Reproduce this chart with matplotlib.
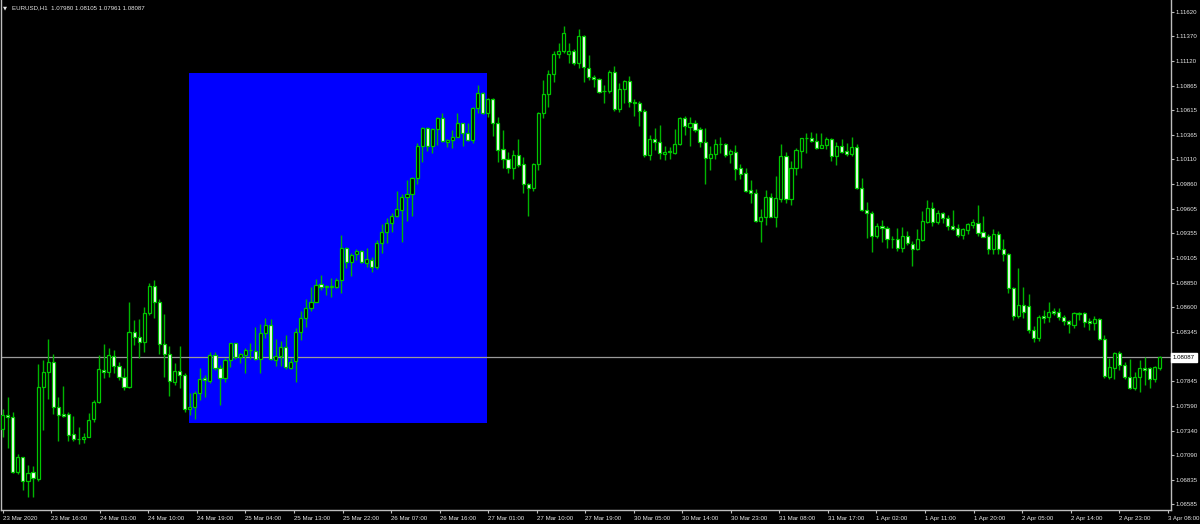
import matplotlib
matplotlib.use("Agg")
import matplotlib.pyplot as plt
import matplotlib.transforms as mtransforms
import numpy as np

plt.rcParams['font.family'] = ['Liberation Sans', 'DejaVu Sans']

# EURUSD H1 candles
opens = [
    1.0736, 1.0750, 1.0748, 1.0692, 1.0707, 1.0682, 1.0692, 1.0684, 1.0778, 1.0794,
    1.0804, 1.0758, 1.0751, 1.0751, 1.0730, 1.0725, 1.0725, 1.0727, 1.0746, 1.0763,
    1.0796, 1.0794, 1.0810, 1.0800, 1.0789, 1.0778, 1.0835, 1.0830, 1.0824, 1.0854,
    1.0882, 1.0865, 1.0822, 1.0812, 1.0784, 1.0795, 1.0791, 1.0756, 1.0758, 1.0772,
    1.0788, 1.0785, 1.0811, 1.0798, 1.0788, 1.0806, 1.0823, 1.0809, 1.0811, 1.0816,
    1.0815, 1.0807, 1.0834, 1.0842, 1.0806, 1.0810, 1.0819, 1.0798, 1.0805, 1.0835,
    1.0849, 1.0859, 1.0865, 1.0884, 1.0881, 1.0881, 1.0881, 1.0888, 1.0921, 1.0906,
    1.0914, 1.0917, 1.0905, 1.0908, 1.0901, 1.0926, 1.0937, 1.0946, 1.0953, 1.0959,
    1.0973, 1.0976, 1.0992, 1.1025, 1.1043, 1.1025, 1.1042, 1.1053, 1.1029, 1.1031,
    1.1034, 1.1048, 1.1038, 1.1031, 1.1064, 1.1079, 1.1059, 1.1073, 1.1048, 1.1022,
    1.1012, 1.1002, 1.1016, 1.1006, 1.0986, 1.0982, 1.1006, 1.1059, 1.1078, 1.1098,
    1.1119, 1.1122, 1.1119, 1.1122, 1.1110, 1.1137, 1.1105, 1.1095, 1.1093, 1.1081,
    1.1081, 1.1100, 1.1063, 1.1083, 1.1091, 1.1070, 1.1069, 1.1061, 1.1016, 1.1032,
    1.1029, 1.1017, 1.1019, 1.1018, 1.1027, 1.1053, 1.1044, 1.1048, 1.1042, 1.1029,
    1.1013, 1.1017, 1.1027, 1.1027, 1.1017, 1.1019, 1.1002, 1.0997, 1.0980, 1.0977,
    1.0948, 1.0952, 1.0973, 1.0952, 1.0971, 1.1015, 1.0971, 1.1002, 1.1020, 1.1033,
    1.1033, 1.1030, 1.1023, 1.1026, 1.1032, 1.1015, 1.1025, 1.1020, 1.1017, 1.1024,
    1.0982, 1.0959, 1.0956, 1.0933, 1.0943, 1.0941, 1.0930, 1.0930, 1.0921, 1.0933,
    1.0925, 1.0920, 1.0929, 1.0947, 1.0961, 1.0947, 1.0956, 1.0951, 1.0943, 1.0941,
    1.0934, 1.0939, 1.0944, 1.0946, 1.0937, 1.0933, 1.0920, 1.0935, 1.0920, 1.0914,
    1.0880, 1.0851, 1.0862, 1.0861, 1.0837, 1.0829, 1.0851, 1.0850, 1.0856, 1.0855,
    1.0850, 1.0846, 1.0842, 1.0853, 1.0854, 1.0846, 1.0844, 1.0848, 1.0828, 1.0789,
    1.0798, 1.0813, 1.0801, 1.0789, 1.0777, 1.0789, 1.0798, 1.0798, 1.0787, 1.07980,
]
highs = [
    1.0756, 1.0768, 1.0753, 1.0710, 1.0707, 1.0699, 1.0698, 1.0802, 1.0806, 1.0828,
    1.0812, 1.0768, 1.0780, 1.0753, 1.0749, 1.0738, 1.0731, 1.0752, 1.0765, 1.0811,
    1.0822, 1.0818, 1.0816, 1.0804, 1.0798, 1.0865, 1.0847, 1.0848, 1.0860, 1.0885,
    1.0888, 1.0868, 1.0853, 1.0820, 1.0803, 1.0820, 1.0793, 1.0772, 1.0774, 1.0798,
    1.0791, 1.0814, 1.0814, 1.0801, 1.0808, 1.0823, 1.0823, 1.0813, 1.0818, 1.0823,
    1.0840, 1.0843, 1.0849, 1.0848, 1.0828, 1.0825, 1.0832, 1.0808, 1.0839, 1.0856,
    1.0868, 1.0881, 1.0889, 1.0893, 1.0883, 1.0890, 1.0890, 1.0934, 1.0922, 1.0915,
    1.0920, 1.0918, 1.0921, 1.0911, 1.0929, 1.0945, 1.0951, 1.0956, 1.0979, 1.0976,
    1.0990, 1.0993, 1.1028, 1.1044, 1.1044, 1.1043, 1.1054, 1.1059, 1.1032, 1.1041,
    1.1059, 1.1048, 1.1048, 1.1065, 1.1087, 1.1080, 1.1074, 1.1074, 1.1054, 1.1041,
    1.1019, 1.1021, 1.1032, 1.1014, 1.0987, 1.1007, 1.1060, 1.1092, 1.1102, 1.1122,
    1.1130, 1.1147, 1.1130, 1.1124, 1.1144, 1.1138, 1.1118, 1.1097, 1.1094, 1.1087,
    1.1102, 1.1107, 1.1089, 1.1092, 1.1096, 1.1073, 1.1071, 1.1063, 1.1036, 1.1043,
    1.1046, 1.1025, 1.1024, 1.1042, 1.1054, 1.1055, 1.1054, 1.1051, 1.1044, 1.1043,
    1.1025, 1.1032, 1.1034, 1.1028, 1.1022, 1.1026, 1.1006, 1.1002, 1.0990, 1.0981,
    1.0960, 1.0980, 1.0977, 1.0994, 1.1027, 1.1019, 1.1009, 1.1023, 1.1033, 1.1038,
    1.1039, 1.1038, 1.1038, 1.1034, 1.1033, 1.1029, 1.1032, 1.1028, 1.1034, 1.1027,
    1.0992, 1.0968, 1.0958, 1.0946, 1.0949, 1.0943, 1.0933, 1.0941, 1.0942, 1.0938,
    1.0928, 1.0940, 1.0958, 1.0970, 1.0968, 1.0959, 1.0957, 1.0954, 1.0959, 1.0945,
    1.0941, 1.0946, 1.0950, 1.0964, 1.0953, 1.0935, 1.0940, 1.0938, 1.0930, 1.0915,
    1.0881, 1.0900, 1.0881, 1.0874, 1.0841, 1.0852, 1.0857, 1.0865, 1.0859, 1.0859,
    1.0852, 1.0847, 1.0855, 1.0855, 1.0855, 1.0849, 1.0851, 1.0849, 1.0832, 1.0808,
    1.0814, 1.0815, 1.0804, 1.0807, 1.0794, 1.0806, 1.0809, 1.0799, 1.0800, 1.08105,
]
lows = [
    1.0727, 1.0716, 1.0691, 1.0690, 1.0673, 1.0666, 1.0666, 1.0682, 1.0735, 1.0766,
    1.0751, 1.0723, 1.0748, 1.0723, 1.0723, 1.0720, 1.0721, 1.0727, 1.0743, 1.0762,
    1.0788, 1.0789, 1.0793, 1.0786, 1.0775, 1.0777, 1.0821, 1.0808, 1.0814, 1.0852,
    1.0849, 1.0812, 1.0789, 1.0769, 1.0781, 1.0777, 1.0753, 1.0750, 1.0746, 1.0765,
    1.0768, 1.0783, 1.0796, 1.0760, 1.0784, 1.0799, 1.0807, 1.0803, 1.0793, 1.0807,
    1.0806, 1.0793, 1.0829, 1.0806, 1.0800, 1.0800, 1.0797, 1.0797, 1.0784, 1.0827,
    1.0840, 1.0856, 1.0865, 1.0878, 1.0872, 1.0870, 1.0880, 1.0875, 1.0900, 1.0892,
    1.0908, 1.0905, 1.0901, 1.0896, 1.0899, 1.0915, 1.0926, 1.0937, 1.0952, 1.0927,
    1.0948, 1.0953, 1.0986, 1.1008, 1.1020, 1.1018, 1.1026, 1.1029, 1.1024, 1.1023,
    1.1034, 1.1025, 1.1030, 1.1028, 1.1059, 1.1057, 1.1054, 1.1035, 1.1008, 1.1002,
    1.0997, 1.0991, 1.1003, 1.0977, 1.0953, 1.0979, 1.1000, 1.1053, 1.1065, 1.1090,
    1.1115, 1.1120, 1.1110, 1.1108, 1.1105, 1.1090, 1.1092, 1.1085, 1.1079, 1.1069,
    1.1079, 1.1061, 1.1060, 1.1069, 1.1065, 1.1055, 1.1045, 1.1014, 1.1010, 1.1021,
    1.1012, 1.1010, 1.1012, 1.1017, 1.1026, 1.1036, 1.1025, 1.1039, 1.1024, 1.0986,
    1.1000, 1.1012, 1.1018, 1.1014, 1.1007, 1.0990, 1.0991, 1.0978, 1.0967, 1.0947,
    1.0927, 1.0944, 1.0952, 1.0942, 1.0968, 1.0967, 1.0964, 1.0995, 1.1002, 1.1018,
    1.1029, 1.1022, 1.1023, 1.1022, 1.1009, 1.1005, 1.1018, 1.1015, 1.1015, 1.0981,
    1.0958, 1.0931, 1.0916, 1.0931, 1.0927, 1.0921, 1.0921, 1.0917, 1.0916, 1.0924,
    1.0902, 1.0918, 1.0928, 1.0946, 1.0943, 1.0945, 1.0946, 1.0939, 1.0939, 1.0932,
    1.0930, 1.0935, 1.0941, 1.0933, 1.0932, 1.0914, 1.0914, 1.0914, 1.0907, 1.0875,
    1.0847, 1.0849, 1.0849, 1.0834, 1.0824, 1.0826, 1.0844, 1.0845, 1.0852, 1.0847,
    1.0842, 1.0834, 1.0839, 1.0847, 1.0840, 1.0837, 1.0837, 1.0827, 1.0788, 1.0787,
    1.0787, 1.0796, 1.0787, 1.0776, 1.0775, 1.0773, 1.0781, 1.0777, 1.0784, 1.07961,
]
closes = [
    1.0750, 1.0748, 1.0692, 1.0707, 1.0682, 1.0691, 1.0685, 1.0778, 1.0794, 1.0804,
    1.0758, 1.0750, 1.0749, 1.0729, 1.0725, 1.0725, 1.0727, 1.0745, 1.0763, 1.0797,
    1.0794, 1.0811, 1.0800, 1.0789, 1.0778, 1.0835, 1.0830, 1.0824, 1.0854, 1.0882,
    1.0865, 1.0822, 1.0812, 1.0785, 1.0795, 1.0791, 1.0756, 1.0758, 1.0772, 1.0787,
    1.0786, 1.0811, 1.0798, 1.0788, 1.0806, 1.0823, 1.0809, 1.0812, 1.0816, 1.0816,
    1.0807, 1.0834, 1.0842, 1.0807, 1.0810, 1.0819, 1.0799, 1.0804, 1.0835, 1.0849,
    1.0859, 1.0865, 1.0883, 1.0881, 1.0881, 1.0881, 1.0888, 1.0921, 1.0906, 1.0913,
    1.0917, 1.0906, 1.0909, 1.0901, 1.0926, 1.0937, 1.0946, 1.0953, 1.0960, 1.0973,
    1.0976, 1.0992, 1.1025, 1.1043, 1.1025, 1.1042, 1.1053, 1.1030, 1.1031, 1.1034,
    1.1048, 1.1038, 1.1031, 1.1064, 1.1079, 1.1059, 1.1073, 1.1048, 1.1021, 1.1012,
    1.1002, 1.1016, 1.1005, 1.0986, 1.0982, 1.1006, 1.1059, 1.1078, 1.1098, 1.1119,
    1.1122, 1.1140, 1.1122, 1.1110, 1.1137, 1.1106, 1.1095, 1.1093, 1.1080, 1.1081,
    1.1100, 1.1063, 1.1083, 1.1091, 1.1070, 1.1069, 1.1061, 1.1016, 1.1032, 1.1029,
    1.1018, 1.1019, 1.1019, 1.1027, 1.1053, 1.1045, 1.1048, 1.1041, 1.1029, 1.1013,
    1.1017, 1.1027, 1.1027, 1.1016, 1.1020, 1.1001, 1.0996, 1.0979, 1.0977, 1.0948,
    1.0952, 1.0973, 1.0952, 1.0972, 1.1015, 1.0971, 1.1002, 1.1021, 1.1033, 1.1033,
    1.1030, 1.1023, 1.1026, 1.1032, 1.1015, 1.1025, 1.1019, 1.1017, 1.1024, 1.0982,
    1.0959, 1.0956, 1.0933, 1.0943, 1.0941, 1.0930, 1.0930, 1.0921, 1.0933, 1.0926,
    1.0920, 1.0930, 1.0948, 1.0961, 1.0947, 1.0956, 1.0951, 1.0943, 1.0940, 1.0934,
    1.0940, 1.0945, 1.0947, 1.0936, 1.0932, 1.0920, 1.0935, 1.0920, 1.0914, 1.0880,
    1.0851, 1.0862, 1.0855, 1.0837, 1.0829, 1.0850, 1.0849, 1.0855, 1.0854, 1.0850,
    1.0846, 1.0843, 1.0854, 1.0854, 1.0845, 1.0844, 1.0848, 1.0828, 1.0790, 1.0799,
    1.0813, 1.0801, 1.0789, 1.0777, 1.0789, 1.0798, 1.0796, 1.0787, 1.0799, 1.08087,
]

price_ticks = [1.11620, 1.11370, 1.11120, 1.10865, 1.10615, 1.10365, 1.10110,
               1.09860, 1.09605, 1.09355, 1.09105, 1.08850, 1.08600, 1.08345,
               1.07845, 1.07590, 1.07340, 1.07090, 1.06835, 1.06585]
time_labels = ["23 Mar 2020", "23 Mar 16:00", "24 Mar 01:00", "24 Mar 10:00",
               "24 Mar 19:00", "25 Mar 04:00", "25 Mar 13:00", "25 Mar 22:00",
               "26 Mar 07:00", "26 Mar 16:00", "27 Mar 01:00", "27 Mar 10:00",
               "27 Mar 19:00", "30 Mar 05:00", "30 Mar 14:00", "30 Mar 23:00",
               "31 Mar 08:00", "31 Mar 17:00", "1 Apr 02:00", "1 Apr 11:00",
               "1 Apr 20:00", "2 Apr 05:00", "2 Apr 14:00", "2 Apr 23:00",
               "3 Apr 08:00"]
label_step = 9.606  # bars between time labels as drawn by the terminal

# rectangle object drawn on the chart (bar index range, price range)
rect_bars = (36.9, 95.8)
rect_prices = (1.07417, 1.10994)

symbol = "EURUSD,H1"
bid = closes[-1]

o = np.array(opens)
h = np.array(highs)
l = np.array(lows)
c = np.array(closes)
x = np.arange(len(o))

fs = 4.4  # small terminal font

fig = plt.figure(figsize=(12, 5.24), dpi=100, facecolor='black')
ax = fig.add_axes([1 / 1200, 14 / 524, 1170 / 1200, 510 / 524])
ax.set_facecolor('black')

# blue rectangle in background
ax.fill_between(rect_bars, rect_prices[0], rect_prices[1], color='#0000ff', lw=0, zorder=0)

wick_green = '#00b400'
edge_green = '#00c800'
ax.vlines(x, l, h, color=wick_green, lw=1.0, zorder=2)
bull = c >= o
face = np.where(bull, 'black', 'white')
body = np.abs(c - o)
body = np.where(body < 0.00002, 0.00002, body)
ax.bar(x, body, bottom=np.minimum(o, c), width=0.62, color=face,
       edgecolor=edge_green, linewidth=0.9, zorder=3)

# bid line
ax.axhline(bid, color='#9a9a9a', lw=0.9, zorder=1)

ax.set_xlim(-0.34, 231.2)
ax.set_ylim(1.065278, 1.11740)

for s in ['left', 'bottom', 'right']:
    ax.spines[s].set_color('#bdbdbd')
    ax.spines[s].set_linewidth(1)
ax.spines['top'].set_visible(False)

ax.yaxis.tick_right()
ax.set_yticks(price_ticks)
ax.set_yticklabels([f"{p:.5f}" for p in price_ticks])
ax.tick_params(axis='y', colors='#bdbdbd', labelcolor='#e6e6e6', labelsize=fs,
               length=2.5, width=0.8, pad=1.0, direction='out')

ax.set_xticks([i * label_step for i in range(len(time_labels))])
ax.set_xticklabels(time_labels)
ax.tick_params(axis='x', colors='#bdbdbd', labelcolor='#e6e6e6', labelsize=fs,
               length=2.5, width=0.8, pad=1.8, direction='out')
for lab in ax.get_xticklabels():
    lab.set_horizontalalignment('left')

# bid label on price scale
trans = mtransforms.blended_transform_factory(ax.transAxes, ax.transData)
ax.text(1.0015, bid, f"{bid:.5f}", transform=trans, ha='left', va='center',
        fontsize=fs, color='black', zorder=5,
        bbox=dict(boxstyle='square,pad=0.35', facecolor='white', edgecolor='white'))

# header
fig.text(3 / 1200, 1 - 8 / 524, "\u25bc", color='#e6e6e6', fontsize=3.8,
         va='center', ha='left', family=['DejaVu Sans'])
fig.text(12 / 1200, 1 - 8 / 524,
         f"{symbol}  {opens[-1]:.5f} {highs[-1]:.5f} {lows[-1]:.5f} {closes[-1]:.5f}",
         color='#e6e6e6', fontsize=fs, va='center', ha='left')

fig.savefig("out.png", dpi=100, facecolor='black')
